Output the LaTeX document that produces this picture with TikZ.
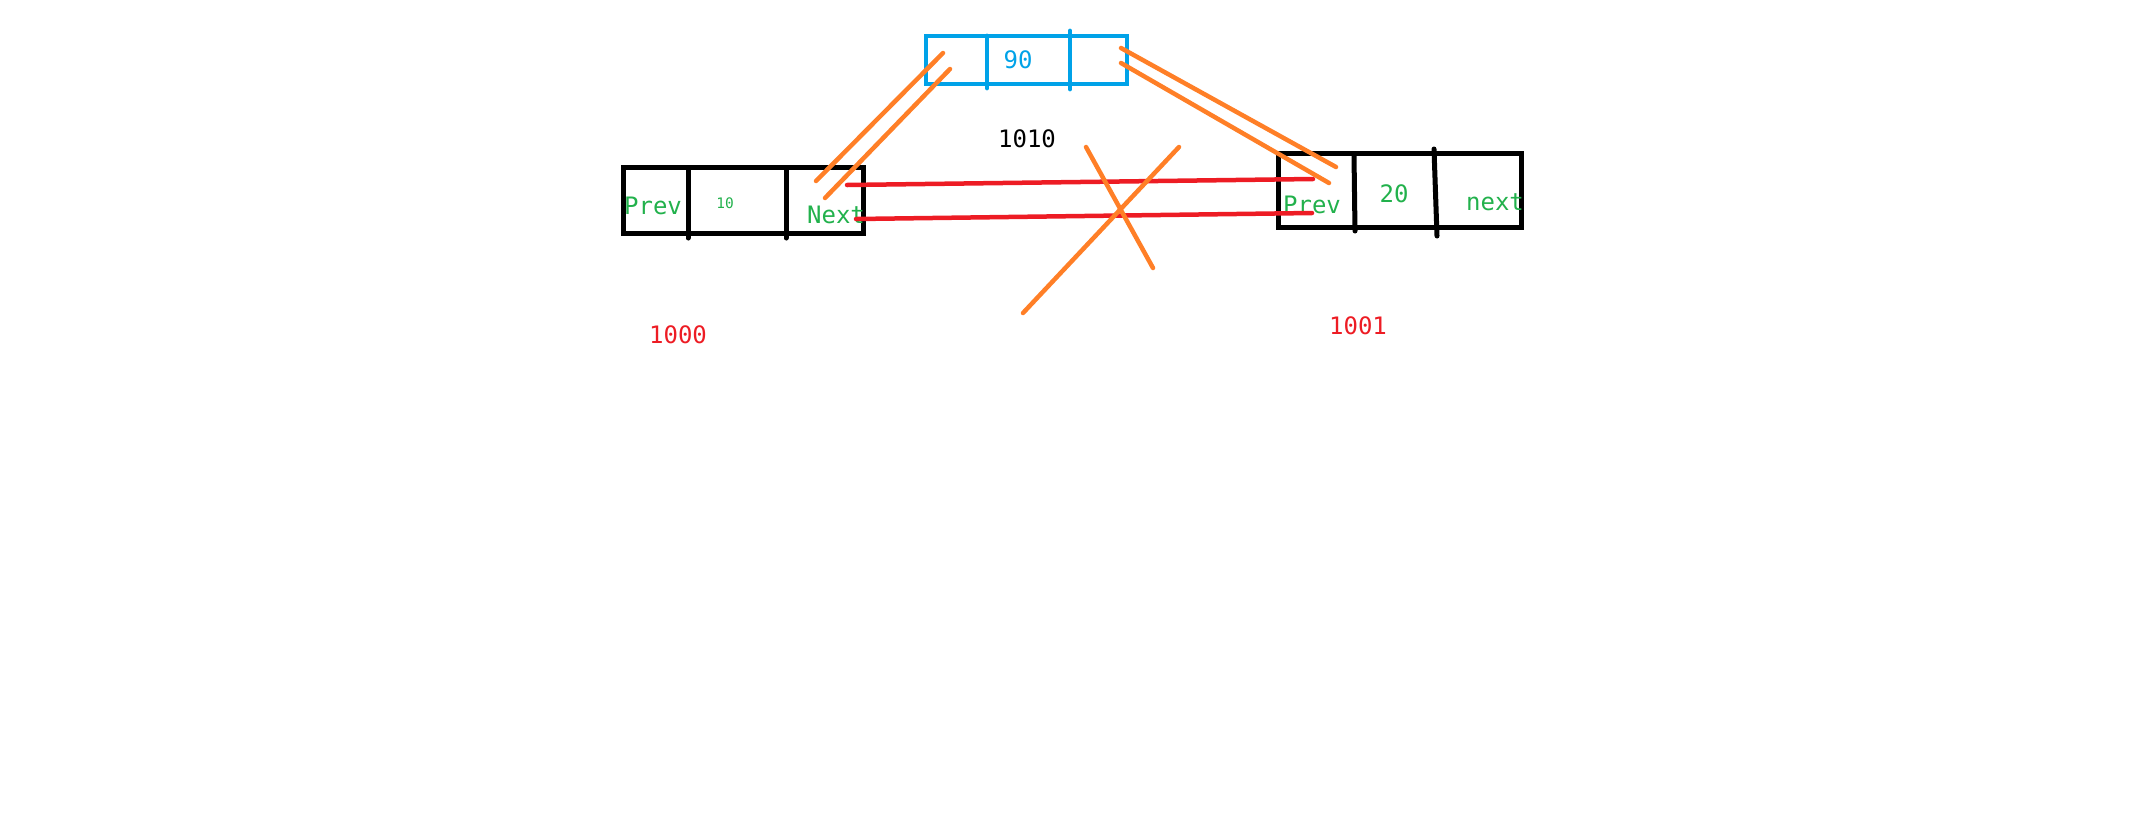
\documentclass[tikz,border=0pt]{standalone}
\usepackage{fontspec}
\newfontfamily\monofont{DejaVu Sans Mono}
\definecolor{pgreen}{HTML}{22B14C}
\definecolor{pblue}{HTML}{00A2E8}
\definecolor{pred}{HTML}{ED1C24}
\definecolor{porange}{HTML}{FF7F27}
\tikzset{
  cellbox/.style={draw, line width=5pt, inner sep=0pt, outer sep=0pt},
  divider/.style={line width=5pt, line cap=round},
  bluebox/.style={draw=pblue, line width=4.8pt, inner sep=0pt, outer sep=0pt},
  bluediv/.style={draw=pblue, line width=4.8pt, line cap=round},
  lbl/.style={inner sep=0pt, anchor=base, font=\monofont\fontsize{24}{28}\selectfont},
  smalllbl/.style={inner sep=0pt, anchor=base, font=\monofont\fontsize{14.5}{17}\selectfont},
  orangeline/.style={draw=porange, line width=4.5pt, line cap=round},
  redline/.style={draw=pred, line width=4.5pt, line cap=round}
}
\begin{document}
\begin{tikzpicture}[x=1pt,y=-1pt]
\useasboundingbox (0,0) rectangle (2131,839);
% boxes
\node[cellbox, minimum width=240pt, minimum height=66pt] (L) at (743.5,200) {};
\node[bluebox, minimum width=201pt, minimum height=48pt] (B) at (1026.5,60) {};
\node[cellbox, minimum width=243pt, minimum height=74pt] (R) at (1399.5,190) {};
% dividers
\draw[divider] (688,168) -- (688,238);
\draw[divider] (786,168) -- (786,238);
\draw[bluediv] (987,36) -- (987,88);
\draw[bluediv] (1070,31) -- (1070,89);
\draw[divider] (1354,155) -- (1355,231);
\draw[divider] (1434,149) -- (1437,236);
% texts
\node[lbl, text=pgreen] (lprev) at (653,214) {Prev};
\node[smalllbl, text=pgreen] (lval) at (725,208) {10};
\node[lbl, text=pgreen] (lnext) at (836,223) {Next};
\node[lbl, text=pblue] (bval) at (1018,68) {90};
\node[lbl, text=black] (baddr) at (1027,147) {1010};
\node[lbl, text=pgreen] (rprev) at (1312,213) {Prev};
\node[lbl, text=pgreen] (rval) at (1394,202) {20};
\node[lbl, text=pgreen] (rnext) at (1495,210) {next};
\node[lbl, text=pred] (raddr) at (1358,334) {1001};
\node[lbl, text=pred] (laddr) at (678,343) {1000};
% endpoints
\coordinate (o1a) at (943,53);  \coordinate (o1b) at (816,181);
\coordinate (o2a) at (950,69);  \coordinate (o2b) at (825,198);
\coordinate (o3a) at (1121,48); \coordinate (o3b) at (1336,167);
\coordinate (o4a) at (1121,63); \coordinate (o4b) at (1329,183);
\coordinate (r1a) at (847,185); \coordinate (r1b) at (1313,179);
\coordinate (r2a) at (856,219); \coordinate (r2b) at (1312,213);
\coordinate (xa1) at (1086,147); \coordinate (xa2) at (1153,268);
\coordinate (xb1) at (1179,147); \coordinate (xb2) at (1023,313);
% red links
\draw[redline] (r1a) -- (r1b);
\draw[redline] (r2a) -- (r2b);
% orange links
\draw[orangeline] (o1a) -- (o1b);
\draw[orangeline] (o2a) -- (o2b);
\draw[orangeline] (o3a) -- (o3b);
\draw[orangeline] (o4a) -- (o4b);
% cross
\draw[orangeline] (xa1) -- (xa2);
\draw[orangeline] (xb1) -- (xb2);
\end{tikzpicture}
\end{document}
